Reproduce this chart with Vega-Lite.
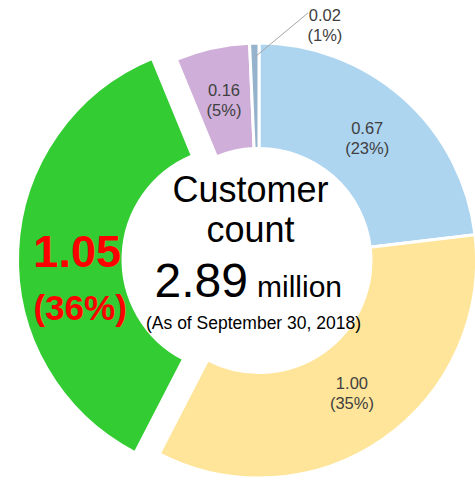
{
  "$schema": "https://vega.github.io/schema/vega-lite/v6.json",
  "width": 400,
  "height": 401,
  "autosize": {"type": "none"},
  "padding": {"left": 59, "top": 60, "right": 16, "bottom": 21},
  "background": "white",
  "config": {"view": {"stroke": null}, "font": "Liberation Sans"},
  "datasets": {
    "segments": [
      {"idx": 1, "cat": "Blue", "value": 0.67, "label": "0.67\n(23%)", "num": "0.67", "pct": "(23%)"},
      {"idx": 2, "cat": "Yellow", "value": 1.00, "label": "1.00\n(35%)", "num": "1.00", "pct": "(35%)"},
      {"idx": 3, "cat": "Green", "value": 1.05, "label": "1.05\n(36%)", "num": "1.05", "pct": "(36%)"},
      {"idx": 4, "cat": "Purple", "value": 0.16, "label": "0.16\n(5%)", "num": "0.16", "pct": "(5%)"},
      {"idx": 5, "cat": "Gray", "value": 0.02, "label": "0.02\n(1%)", "num": "0.02", "pct": "(1%)"}
    ],
    "leader": [{"x": -0.018, "y": 0.936, "x2": 0.225, "y2": 1.138}],
    "outside": [{"x": 0.303, "y": 1.08, "t": "0.02\n(1%)"}]
  },
  "layer": [
    {
      "data": {"name": "segments"},
      "mark": {"type": "arc", "radius": 217.5, "innerRadius": 112, "stroke": "white", "strokeWidth": 3},
      "encoding": {
        "theta": {"field": "value", "type": "quantitative", "stack": true},
        "order": {"field": "idx", "type": "quantitative"},
        "color": {"field": "cat", "type": "nominal", "legend": null,
          "scale": {"domain": ["Blue", "Yellow", "Green", "Purple", "Gray"], "range": ["#AED5F0", "#FFE599", "#33CC33", "#CFAFD9", "#95B3CD"]}},
        "opacity": {"condition": {"test": "datum.cat === 'Green'", "value": 0}, "value": 1}
      }
    },
    {
      "data": {"name": "segments"},
      "mark": {"type": "arc", "radius": 217.5, "innerRadius": 112, "stroke": "white", "strokeWidth": 3, "xOffset": -24, "yOffset": -1},
      "encoding": {
        "theta": {"field": "value", "type": "quantitative", "stack": true},
        "order": {"field": "idx", "type": "quantitative"},
        "color": {"field": "cat", "type": "nominal", "legend": null},
        "opacity": {"condition": {"test": "datum.cat === 'Green'", "value": 1}, "value": 0}
      }
    },
    {
      "data": {"name": "segments"},
      "mark": {"type": "text", "radius": 163, "dy": -10, "fontSize": 16.5, "color": "#404040", "lineBreak": "\n", "lineHeight": 20, "baseline": "middle", "align": "center"},
      "encoding": {
        "theta": {"field": "value", "type": "quantitative", "stack": true},
        "order": {"field": "idx", "type": "quantitative"},
        "text": {"condition": {"test": "datum.cat === 'Green' || datum.cat === 'Gray'", "value": ""}, "field": "label", "type": "nominal"}
      }
    },
    {
      "data": {"name": "segments"},
      "mark": {"type": "text", "radius": 158, "dx": -24, "dy": -1, "fontSize": 45, "fontWeight": "bold", "color": "#FF0000", "baseline": "middle", "align": "center"},
      "encoding": {
        "theta": {"field": "value", "type": "quantitative", "stack": true},
        "order": {"field": "idx", "type": "quantitative"},
        "text": {"condition": {"test": "datum.cat === 'Green'", "field": "num", "type": "nominal"}, "value": ""}
      }
    },
    {
      "data": {"name": "segments"},
      "mark": {"type": "text", "radius": 158, "dx": -21, "dy": 55, "fontSize": 35, "fontWeight": "bold", "color": "#FF0000", "baseline": "middle", "align": "center"},
      "encoding": {
        "theta": {"field": "value", "type": "quantitative", "stack": true},
        "order": {"field": "idx", "type": "quantitative"},
        "text": {"condition": {"test": "datum.cat === 'Green'", "field": "pct", "type": "nominal"}, "value": ""}
      }
    },
    {
      "data": {"name": "leader"},
      "mark": {"type": "rule", "color": "#A6A6A6", "strokeWidth": 1},
      "encoding": {
        "x": {"field": "x", "type": "quantitative", "axis": null, "scale": {"domain": [-0.9195, 0.9195]}},
        "y": {"field": "y", "type": "quantitative", "axis": null, "scale": {"domain": [-0.9218, 0.9218]}},
        "x2": {"field": "x2"},
        "y2": {"field": "y2"}
      }
    },
    {
      "data": {"name": "outside"},
      "mark": {"type": "text", "dy": -10, "fontSize": 16.5, "color": "#404040", "lineBreak": "\n", "lineHeight": 20, "baseline": "middle", "align": "center"},
      "encoding": {
        "x": {"field": "x", "type": "quantitative", "axis": null, "scale": {"domain": [-0.9195, 0.9195]}},
        "y": {"field": "y", "type": "quantitative", "axis": null, "scale": {"domain": [-0.9218, 0.9218]}},
        "text": {"field": "t", "type": "nominal"}
      }
    },
    {
      "data": {"values": [{"t": "Customer"}]},
      "mark": {"type": "text", "fontSize": 36, "color": "black", "align": "center", "baseline": "alphabetic", "dx": -8.5, "dy": -58.5},
      "encoding": {"text": {"field": "t", "type": "nominal"}}
    },
    {
      "data": {"values": [{"t": "count"}]},
      "mark": {"type": "text", "fontSize": 36, "color": "black", "align": "center", "baseline": "alphabetic", "dx": -8.5, "dy": -18.5},
      "encoding": {"text": {"field": "t", "type": "nominal"}}
    },
    {
      "data": {"values": [{"t": "2.89"}]},
      "mark": {"type": "text", "fontSize": 48, "color": "black", "align": "right", "baseline": "alphabetic", "dx": -11, "dy": 36.5},
      "encoding": {"text": {"field": "t", "type": "nominal"}}
    },
    {
      "data": {"values": [{"t": "million"}]},
      "mark": {"type": "text", "fontSize": 30, "color": "black", "align": "left", "baseline": "alphabetic", "dx": -2, "dy": 36.5},
      "encoding": {"text": {"field": "t", "type": "nominal"}}
    },
    {
      "data": {"values": [{"t": "(As of September 30, 2018)"}]},
      "mark": {"type": "text", "fontSize": 17.5, "color": "black", "align": "center", "baseline": "alphabetic", "dx": -5.5, "dy": 68.5},
      "encoding": {"text": {"field": "t", "type": "nominal"}}
    }
  ]
}
